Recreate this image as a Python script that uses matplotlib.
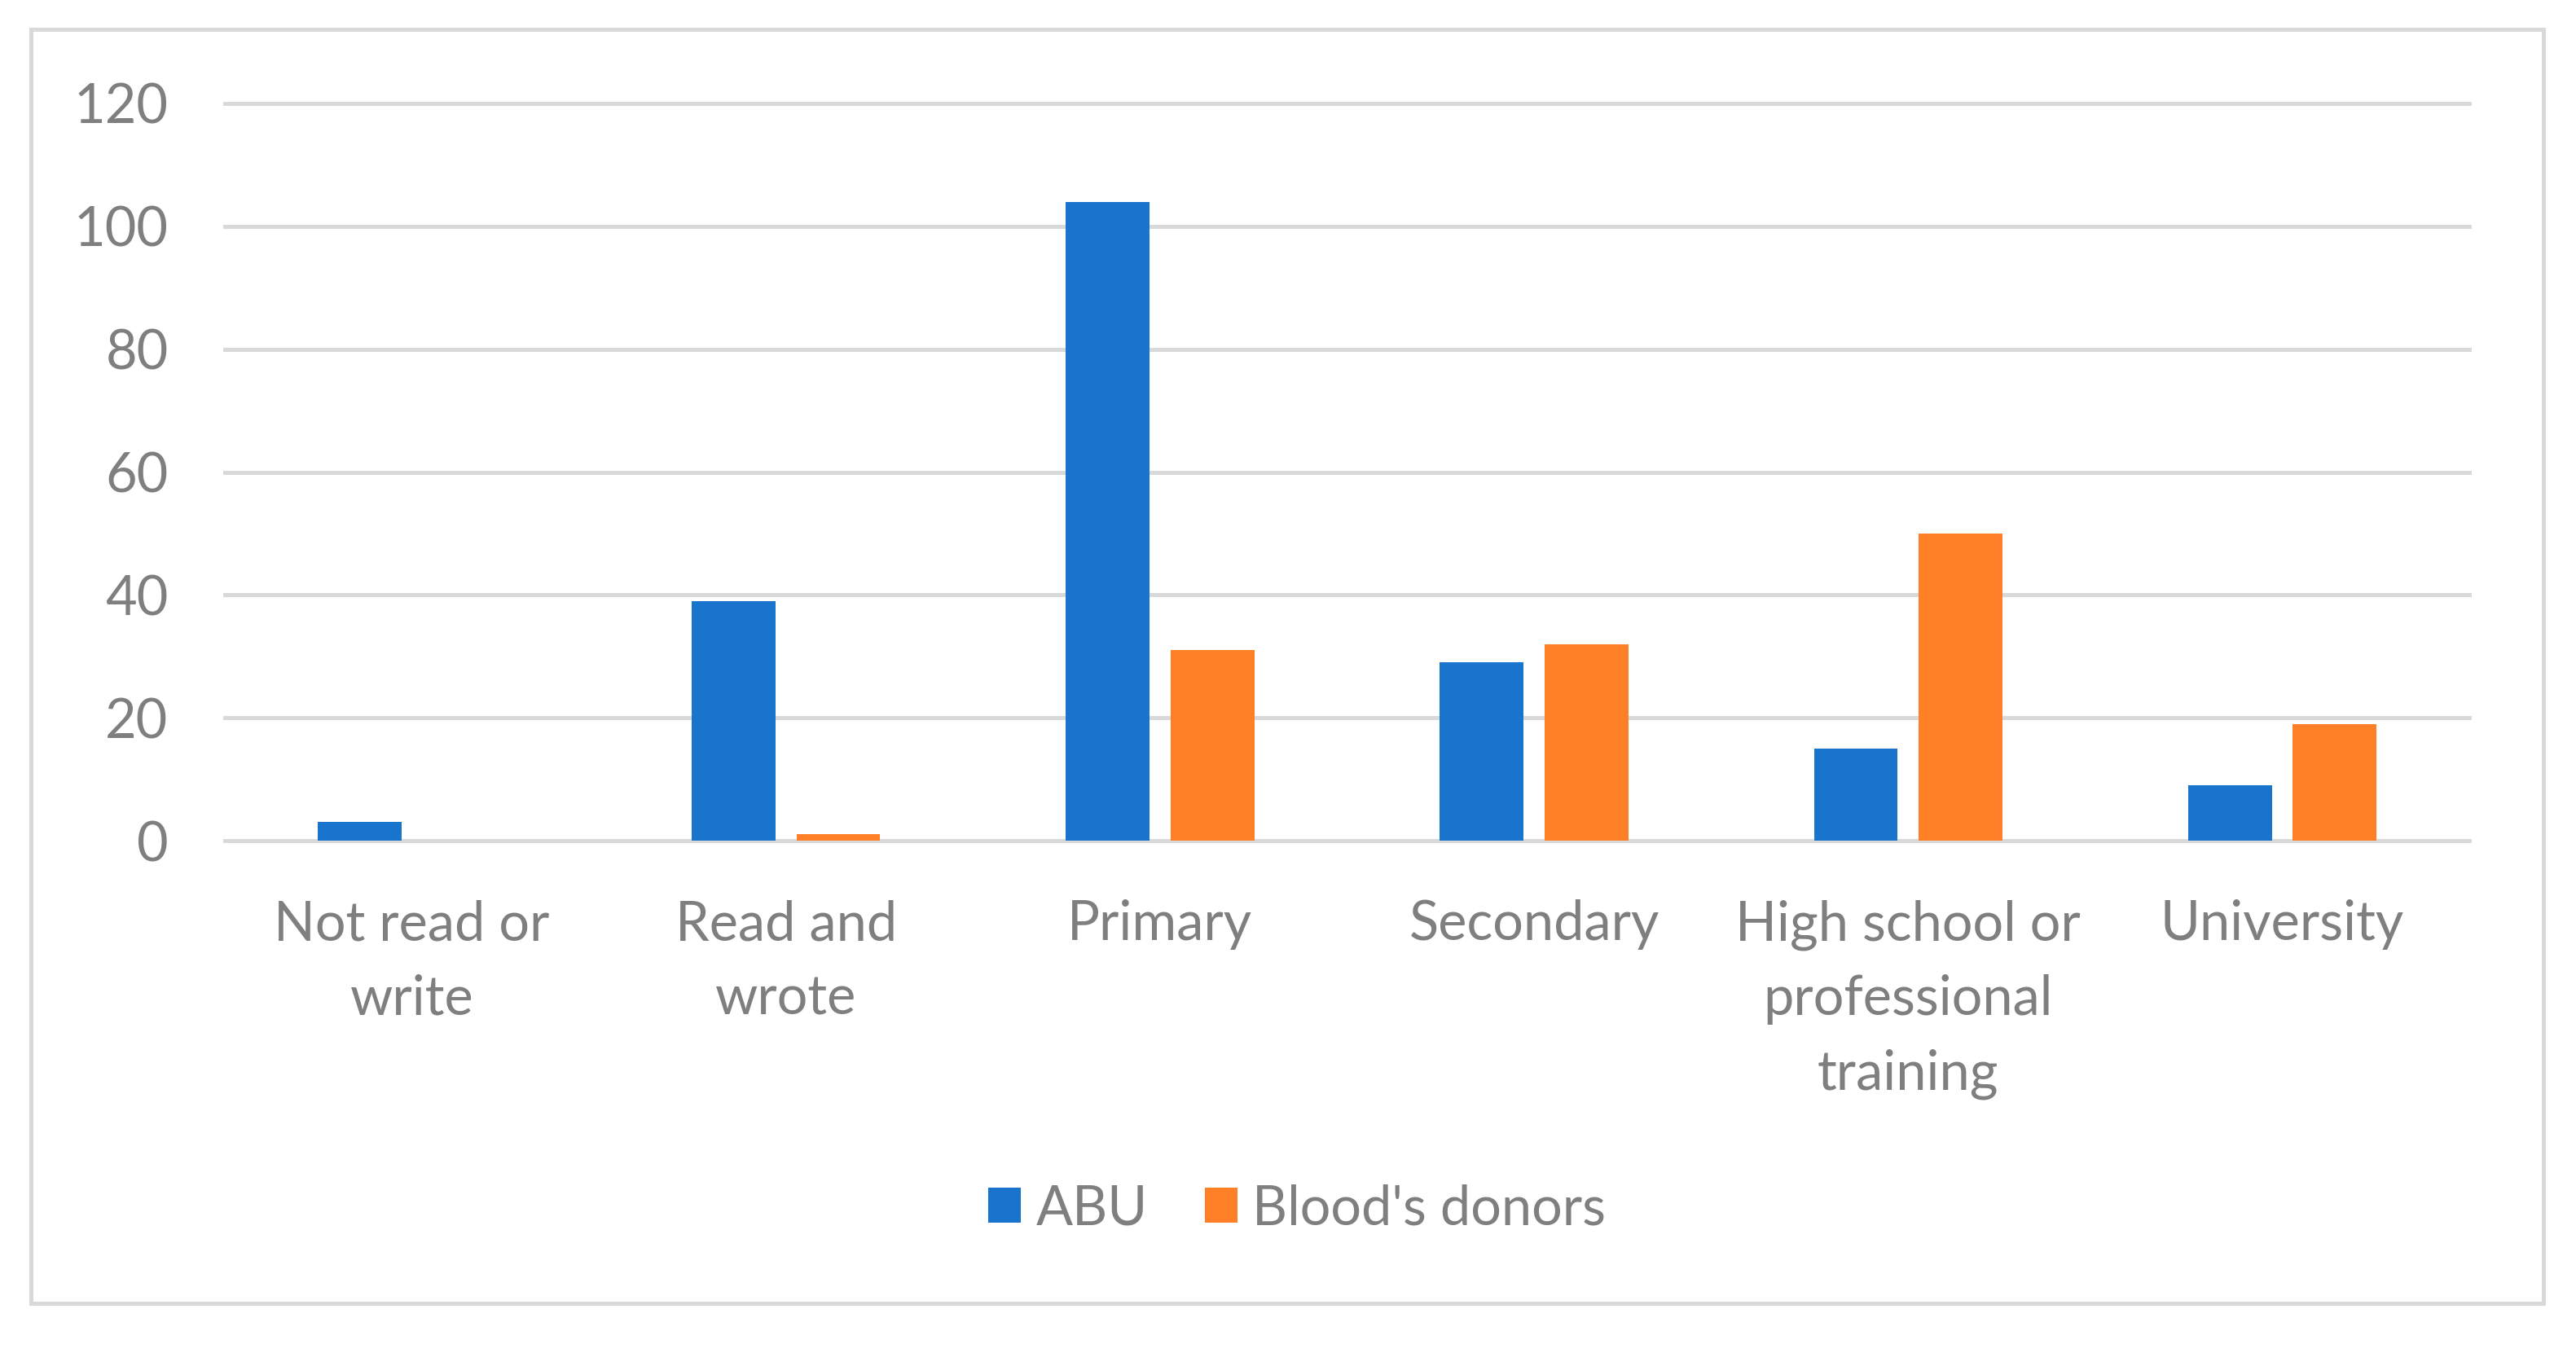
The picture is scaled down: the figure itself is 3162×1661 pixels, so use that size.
import matplotlib
matplotlib.use("Agg")
import matplotlib.pyplot as plt
from matplotlib.patches import Rectangle
import numpy as np

categories = ["Not read or\nwrite", "Read and\nwrote", "Primary", "Secondary",
              "High school or\nprofessional\ntraining", "University"]
abu = [3, 39, 104, 29, 15, 9]
donors = [0, 1, 31, 32, 50, 19]
series_names = ["ABU", "Blood's donors"]
yticks = [0, 20, 40, 60, 80, 100, 120]

W, H = 3162, 1661
DPI = 100
plt.rcParams['font.family'] = ['Lato', 'DejaVu Sans']
TXT = '#7f7f7f'
GRID = '#d9d9d9'
BLUE = '#1874cd'
ORANGE = '#ff7f27'
FS = 48

fig = plt.figure(figsize=(W / DPI, H / DPI), dpi=DPI)
ax_left, ax_right = 276 / W, 3031 / W
ax_bottom, ax_top = 1 - 1032 / H, 1 - 127 / H
ax = fig.add_axes([ax_left, ax_bottom, ax_right - ax_left, ax_top - ax_bottom])

x = np.arange(len(categories))
bw = 0.224
off = 0.14
ax.bar(x - off, abu, bw, color=BLUE, label=series_names[0], zorder=3)
ax.bar(x + off, donors, bw, color=ORANGE, label=series_names[1], zorder=3)

ax.set_xlim(-0.5, len(categories) - 0.5)
ax.set_ylim(0, 120)
ax.set_yticks(yticks)
ax.set_xticks(x)
ax.set_xticklabels(categories, fontsize=FS, color=TXT, linespacing=1.59)
ax.tick_params(axis='y', length=0, pad=50, labelsize=FS, labelcolor=TXT)
ax.tick_params(axis='x', length=0, pad=52, labelsize=FS, labelcolor=TXT)
for v in yticks:
    ax.axhline(v, color=GRID, lw=3.6, zorder=1, clip_on=False)
for s in ax.spines.values():
    s.set_visible(False)

fig.legend(loc='center', bbox_to_anchor=(0.5035, 1 - 1484 / H), ncol=2, frameon=False,
           fontsize=FS, labelcolor=TXT, handlelength=0.6, handleheight=0.6,
           handletextpad=0.28, columnspacing=1.05)

fig.patches.append(Rectangle((38 / W, 1 - 1600 / H), (3122 - 38) / W, (1600 - 36) / H,
                             transform=fig.transFigure, fill=False, edgecolor=GRID, lw=3.6))

fig.savefig("out.png", dpi=DPI, facecolor='white')
